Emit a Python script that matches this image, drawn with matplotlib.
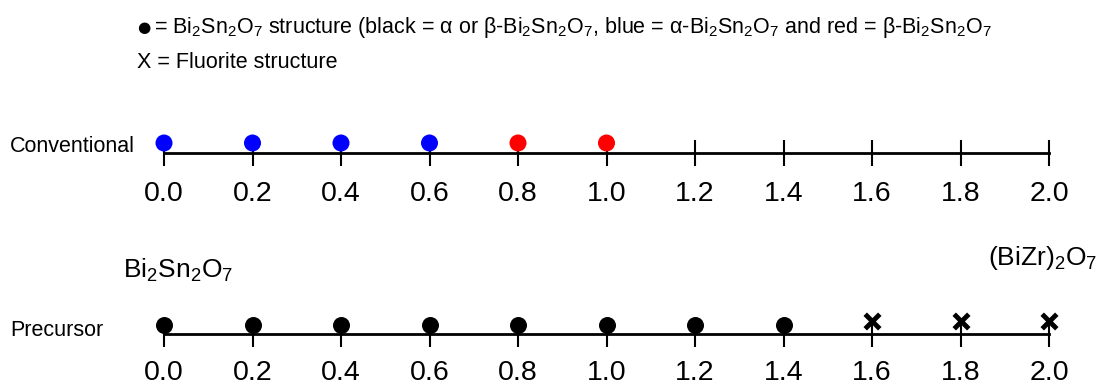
import matplotlib
matplotlib.use("Agg")
import matplotlib.pyplot as plt

# =========================
# DATA
# =========================
TICKS = [0.0, 0.2, 0.4, 0.6, 0.8, 1.0, 1.2, 1.4, 1.6, 1.8, 2.0]
TICK_LABELS = ["0.0", "0.2", "0.4", "0.6", "0.8", "1.0", "1.2", "1.4", "1.6", "1.8", "2.0"]

CONV_X = [0.0, 0.2, 0.4, 0.6, 0.8, 1.0]
CONV_COLORS = ["#0000ff", "#0000ff", "#0000ff", "#0000ff", "#ff0000", "#ff0000"]

PREC_PYRO_X = [0.0, 0.2, 0.4, 0.6, 0.8, 1.0, 1.2, 1.4]
PREC_FLUOR_X = [1.6, 1.8, 2.0]

SUB = "Bi$_2$Sn$_2$O$_7$"
HEADER_1 = ("= " + SUB + " structure (black = α or β-" + SUB + ", blue = α-" + SUB
            + " and red = β-" + SUB)
HEADER_2 = "X = Fluorite structure"

# =========================
# STYLE
# =========================
plt.rcParams["font.family"] = ["Liberation Sans", "DejaVu Sans"]
plt.rcParams["mathtext.fontset"] = "custom"
plt.rcParams["mathtext.rm"] = "Liberation Sans"
plt.rcParams["mathtext.it"] = "Liberation Sans"
plt.rcParams["mathtext.bf"] = "Liberation Sans:bold"

W, H = 1104, 387
DPI = 100
fig = plt.figure(figsize=(W / DPI, H / DPI), dpi=DPI)

X0_PX, X1_PX = 164, 1049
AX_H_PX = 40


def number_line(spine_y_px: float, pad: float) -> plt.Axes:
    ax = fig.add_axes([X0_PX / W, 1 - spine_y_px / H, (X1_PX - X0_PX) / W, AX_H_PX / H])
    ax.set_xlim(0, 2)
    ax.set_ylim(0, AX_H_PX)
    for s in ["top", "left", "right"]:
        ax.spines[s].set_visible(False)
    ax.spines["bottom"].set_linewidth(2)
    ax.set_yticks([])
    ax.set_xticks(TICKS)
    ax.set_xticklabels(TICK_LABELS)
    ax.tick_params(axis="x", direction="inout", length=19, width=1.5,
                   labelsize=20.5, pad=pad)
    ax.patch.set_alpha(0)
    return ax


ax_conv = number_line(153, 11)
ax_conv.scatter(CONV_X, [10] * len(CONV_X), s=150, c=CONV_COLORS,
                zorder=5, clip_on=False, linewidths=0)

ax_prec = number_line(334, 9.5)
ax_prec.scatter(PREC_PYRO_X, [9] * len(PREC_PYRO_X), s=150, c="black",
                zorder=5, clip_on=False, linewidths=0)
ax_prec.scatter(PREC_FLUOR_X, [13] * len(PREC_FLUOR_X), s=110, c="black",
                marker="x", linewidths=3.5, zorder=5, clip_on=False)

# labels
fig.text(10 / W, 1 - 147 / H, "Conventional", fontsize=15.5, va="center", ha="left")
fig.text(10 / W, 1 - 330 / H, "Precursor", fontsize=15.5, va="center", ha="left")

fig.text(123 / W, 1 - 270 / H, SUB, fontsize=19, va="center", ha="left")
fig.text(1097 / W, 1 - 258 / H, "(BiZr)$_2$O$_7$", fontsize=19, va="center", ha="right")

# header
fig.text(137 / W, 1 - 27 / H, "●", family="DejaVu Sans", fontsize=11, va="center", ha="left")
fig.text(154 / W, 1 - 27 / H, HEADER_1, fontsize=15.5, va="center", ha="left")
fig.text(137 / W, 1 - 62 / H, HEADER_2, fontsize=15.5, va="center", ha="left")

fig.savefig("out.png", dpi=DPI)
